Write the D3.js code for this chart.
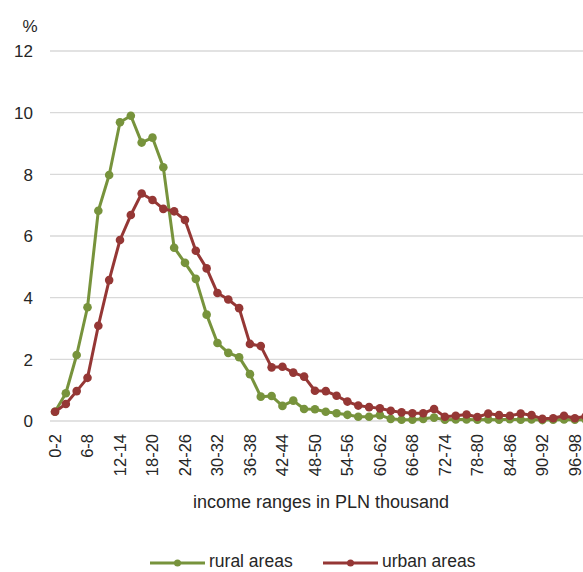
<!DOCTYPE html>
<html><head><meta charset="utf-8">
<script src="https://cdn.jsdelivr.net/npm/d3@7"></script>
<style>body{margin:0;background:#fff;} svg{display:block;} text{font-family:"Liberation Sans",Arial,sans-serif;fill:#262626;}</style>
</head><body>
<script>
const categories = d3.range(0, 100, 2).map(a => a + "-" + (a + 2));
const rural = [0.30,0.90,2.14,3.69,6.82,7.98,9.69,9.90,9.03,9.19,8.23,5.62,5.13,4.61,3.45,2.53,2.21,2.07,1.52,0.79,0.81,0.49,0.66,0.39,0.38,0.30,0.25,0.20,0.14,0.14,0.19,0.07,0.04,0.04,0.07,0.11,0.04,0.05,0.05,0.04,0.05,0.04,0.06,0.04,0.05,0.03,0.04,0.05,0.04,0.04];
const urban = [0.30,0.55,0.97,1.40,3.09,4.57,5.87,6.68,7.38,7.17,6.88,6.80,6.52,5.52,4.95,4.15,3.94,3.66,2.50,2.43,1.74,1.76,1.57,1.44,0.98,0.97,0.82,0.63,0.50,0.45,0.41,0.33,0.28,0.25,0.25,0.39,0.14,0.17,0.21,0.13,0.24,0.19,0.17,0.24,0.19,0.07,0.09,0.17,0.09,0.15];
const yTicks = [0,2,4,6,8,10,12];
const seriesNames = ["rural areas","urban areas"];
const colors = ["#77933C","#953735"];

const W = 583, H = 572;
const svg = d3.select("body").append("svg").attr("width", W).attr("height", H);
const left = 49.6, step = 10.83;
const x = d3.scaleBand().domain(categories).range([left, left + step * categories.length]).padding(0);
const y = d3.scaleLinear().domain([0, 12]).range([421, 51]);
const cx = c => x(c) + x.bandwidth() / 2;

// gridlines
svg.append("g").selectAll("line").data(yTicks).join("line")
  .attr("x1", 50).attr("x2", W).attr("y1", d => y(d)).attr("y2", d => y(d))
  .attr("stroke", "#d9d9d9").attr("stroke-width", 1.3);

// y axis labels
const yAxis = d3.axisLeft(y).tickValues(yTicks).tickSize(0).tickPadding(0);
const yg = svg.append("g").attr("transform", "translate(33,0)").call(yAxis);
yg.select(".domain").remove();
yg.selectAll("text").style("font-size", "17px").attr("fill", "#262626").attr("dy", "0.35em");

svg.append("text").attr("x", 30).attr("y", 32).attr("text-anchor", "middle").style("font-size", "17px").text("%");

// x axis labels
const xAxis = d3.axisBottom(x).tickValues(categories.filter((c, i) => i % 3 === 0 && i <= 48)).tickSize(0).tickPadding(0);
const xg = svg.append("g").attr("transform", "translate(0,421)").call(xAxis);
xg.select(".domain").remove();
xg.selectAll("text").style("font-size", "16.5px").attr("fill", "#262626")
  .attr("text-anchor", "end").attr("transform", "rotate(-90)")
  .attr("x", -13).attr("y", 0).attr("dy", "0.35em");

svg.append("text").attr("x", 321).attr("y", 508).attr("text-anchor", "middle").style("font-size", "18px")
  .text("income ranges in PLN thousand");

const clip = svg.append("clipPath").attr("id", "clip").append("rect").attr("x", 0).attr("y", 0).attr("width", W).attr("height", H);
const line = d3.line().x((d, i) => cx(categories[i])).y(d => y(d));
const plot = svg.append("g").attr("clip-path", "url(#clip)");
[rural, urban].forEach((s, k) => {
  plot.append("path").datum(s).attr("d", line).attr("fill", "none").attr("stroke", colors[k]).attr("stroke-width", 3).attr("stroke-linejoin", "round");
  plot.append("g").selectAll("circle").data(s).join("circle")
    .attr("cx", (d, i) => cx(categories[i])).attr("cy", d => y(d)).attr("r", 4.3).attr("fill", colors[k]);
});

// legend
const legX = [150, 323];
seriesNames.forEach((n, k) => {
  const g = svg.append("g");
  g.append("line").attr("x1", legX[k]).attr("x2", legX[k] + 55).attr("y1", 563).attr("y2", 563).attr("stroke", colors[k]).attr("stroke-width", 3);
  g.append("circle").attr("cx", legX[k] + 27.5).attr("cy", 563).attr("r", 3.5).attr("fill", colors[k]);
  g.append("text").attr("x", legX[k] + 59).attr("y", 567).style("font-size", "17.5px").text(n);
});
</script>
</body></html>
